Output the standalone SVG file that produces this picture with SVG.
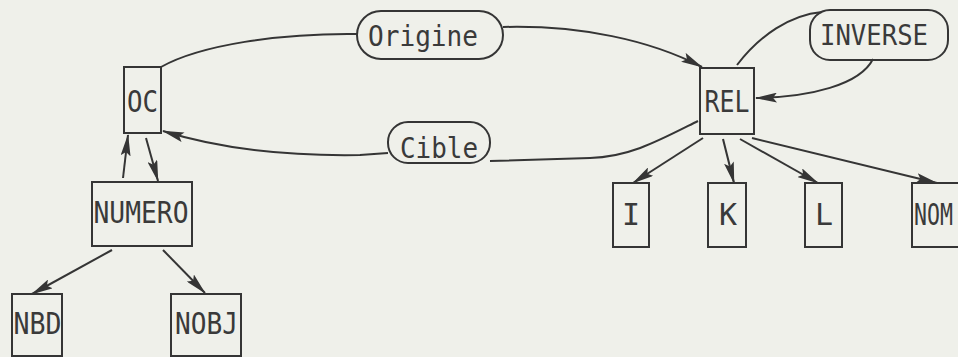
<svg xmlns="http://www.w3.org/2000/svg" width="958" height="357" viewBox="0 0 958 357">
<style>
.box{fill:none;stroke:#353535;stroke-width:2}
.pill{fill:none;stroke:#353535;stroke-width:2}
.lbl{font-family:"DejaVu Sans Mono","Liberation Mono",monospace;font-size:30px;fill:#3a3a3a;text-anchor:middle}
.plbl{font-family:"DejaVu Sans Mono","Liberation Mono",monospace;font-size:28px;fill:#3a3a3a;text-anchor:middle}
.edge{fill:none;stroke:#353535;stroke-width:2}
.arr{marker-end:url(#ah)}
</style>
<defs>
<marker id="ah" viewBox="0 0 22 10" refX="21" refY="5" markerWidth="22" markerHeight="10" markerUnits="userSpaceOnUse" orient="auto">
<path d="M0,0 L22,5 L0,10 L4,5 Z" fill="#353535"/>
</marker>
</defs>
<rect width="958" height="357" fill="#eff0ea"/>
<g id="connectors">
<path class="edge" d="M161,67 C200,45 280,33 357,34"/>
<path class="edge arr" d="M503,27 C580,25 650,40 702,67"/>
<path class="edge" d="M698,121 C660,140 630,157 590,158 L490,161"/>
<path class="edge arr" d="M388,153 L360,155 C300,156 230,152 163,131"/>
<path class="edge" d="M737,65 C760,35 790,15 822,12"/>
<path class="edge arr" d="M873,59 C860,85 810,97 756,98"/>
<path class="edge arr" d="M123,178 L128,135"/>
<path class="edge arr" d="M146,138 L158,181"/>
<path class="edge arr" d="M112,250 L32,294"/>
<path class="edge arr" d="M163,250 L205,293"/>
<path class="edge arr" d="M703,138 L633,183"/>
<path class="edge arr" d="M723,139 L734,183"/>
<path class="edge arr" d="M740,139 L818,183"/>
<path class="edge arr" d="M752,138 L937,183"/>
</g>
<g id="node-OC"><rect class="box" x="124" y="67" width="37" height="66"/><text class="lbl" x="142.5" y="112" textLength="31" lengthAdjust="spacingAndGlyphs">OC</text></g>
<g id="node-REL"><rect class="box" x="700" y="68" width="54" height="66"/><text class="lbl" x="727" y="112" textLength="45" lengthAdjust="spacingAndGlyphs">REL</text></g>
<g id="node-NUMERO"><rect class="box" x="92" y="182" width="100" height="64"/><text class="lbl" x="141" y="223" textLength="95" lengthAdjust="spacingAndGlyphs">NUMERO</text></g>
<g id="node-NBD"><rect class="box" x="12" y="294" width="50" height="62"/><text class="lbl" x="37.5" y="334" textLength="48" lengthAdjust="spacingAndGlyphs">NBD</text></g>
<g id="node-NOBJ"><rect class="box" x="171" y="294" width="70" height="62"/><text class="lbl" x="206.5" y="334" textLength="63" lengthAdjust="spacingAndGlyphs">NOBJ</text></g>
<g id="node-I"><rect class="box" x="613" y="183" width="36" height="64"/><text class="lbl" x="631" y="225">I</text></g>
<g id="node-K"><rect class="box" x="708" y="183" width="38" height="64"/><text class="lbl" x="728" y="225">K</text></g>
<g id="node-L"><rect class="box" x="805" y="183" width="37" height="64"/><text class="lbl" x="824" y="225">L</text></g>
<g id="node-NOM"><rect class="box" x="912" y="183" width="60" height="64"/><text class="lbl" transform="translate(914,225) scale(0.72,1)" x="0" y="0" style="text-anchor:start">NOM</text></g>
<g id="node-Origine"><rect class="pill" x="357" y="11" width="146" height="48" rx="24" ry="24"/><text class="plbl" x="423" y="46" textLength="110" lengthAdjust="spacingAndGlyphs">Origine</text></g>
<g id="node-Cible"><rect class="pill" x="388" y="122" width="102" height="41" rx="20" ry="20"/><text class="plbl" x="439" y="158" textLength="78" lengthAdjust="spacingAndGlyphs">Cible</text></g>
<g id="node-INVERSE"><rect class="pill" x="810" y="10" width="138" height="50" rx="20" ry="20"/><text class="plbl" x="874" y="45" textLength="108" lengthAdjust="spacingAndGlyphs">INVERSE</text></g>
</svg>
